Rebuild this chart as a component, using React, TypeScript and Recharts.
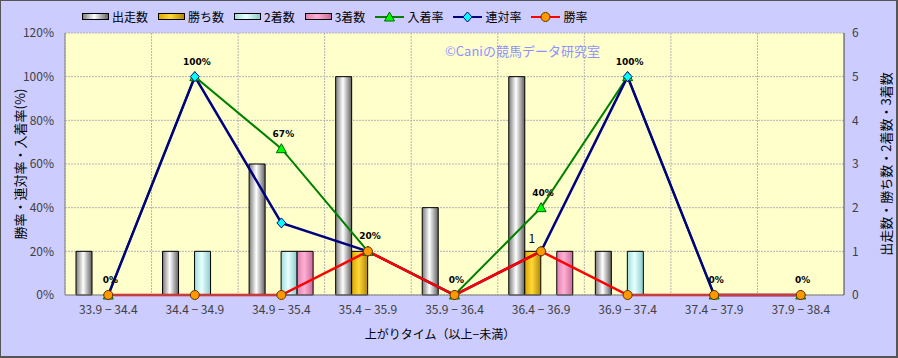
import React from "react";
import {
  ComposedChart,
  Bar,
  Line,
  XAxis,
  YAxis,
  CartesianGrid,
  LabelList,
} from "recharts";

const categories = [
  "33.9 − 34.4",
  "34.4 − 34.9",
  "34.9 − 35.4",
  "35.4 − 35.9",
  "35.9 − 36.4",
  "36.4 − 36.9",
  "36.9 − 37.4",
  "37.4 − 37.9",
  "37.9 − 38.4",
];
const starts = [1, 1, 3, 5, 2, 5, 1, 0, 0];
const wins = [0, 0, 0, 1, 0, 1, 0, 0, 0];
const seconds = [0, 1, 1, 0, 0, 0, 1, 0, 0];
const thirds = [0, 0, 1, 0, 0, 1, 0, 0, 0];
const placeRate = [0, 100, 67, 20, 0, 40, 100, 0, 0];
const quinellaRate = [0, 100, 33, 20, 0, 20, 100, 0, 0];
const winRate = [0, 0, 0, 20, 0, 20, 0, 0, 0];
// only one 勝ち数 bar carries a value label in the original
const winLabels = ["", "", "", "", "", "1", "", "", ""];
const leftTicks = [0, 20, 40, 60, 80, 100, 120];
const rightTicks = [0, 1, 2, 3, 4, 5, 6];

const data = categories.map((c, i) => ({
  name: c,
  starts: starts[i],
  wins: wins[i],
  seconds: seconds[i],
  thirds: thirds[i],
  place: placeRate[i],
  quinella: quinellaRate[i],
  win: winRate[i],
  winLabel: winLabels[i],
}));

const FONT = "'Noto Sans CJK JP', 'Noto Sans', sans-serif";

const bars = [
  { key: "starts", name: "出走数", grad: "gStarts", edge: "#7a7a7a", mid: "#ffffff", dark: "#606060" },
  { key: "wins", name: "勝ち数", grad: "gWins", edge: "#d9a600", mid: "#ffd83a", dark: "#b08600" },
  { key: "seconds", name: "2着数", grad: "gSeconds", edge: "#a0dcdc", mid: "#e8ffff", dark: "#88cccc" },
  { key: "thirds", name: "3着数", grad: "gThirds", edge: "#e080b0", mid: "#ffb0d4", dark: "#c86898" },
];

const Triangle = ({ cx, cy }: any) =>
  cx == null ? null : (
    <path
      d={`M${cx},${cy - 5} L${cx + 5},${cy + 4} L${cx - 5},${cy + 4} Z`}
      fill="#00ff00"
      stroke="#006600"
      strokeWidth={1}
    />
  );

const Diamond = ({ cx, cy }: any) =>
  cx == null ? null : (
    <path
      d={`M${cx},${cy - 5} L${cx + 4.5},${cy} L${cx},${cy + 5} L${cx - 4.5},${cy} Z`}
      fill="#00ffff"
      stroke="#000080"
      strokeWidth={1}
    />
  );

const Circle = ({ cx, cy }: any) =>
  cx == null ? null : (
    <circle cx={cx} cy={cy} r={4.5} fill="#ff9900" stroke="#663300" strokeWidth={1} />
  );

const RateLabel = ({ x, y, value }: any) => (
  <text
    x={x + 2}
    y={y - 12}
    textAnchor="middle"
    fontSize={9}
    fontWeight="bold"
    fontFamily="'DejaVu Sans', sans-serif"
    fill="#000"
  >
    {`${value}%`}
  </text>
);

const WinBarLabel = ({ x, y, width, value }: any) =>
  !value ? null : (
    <text x={x + width / 2 - 1} y={y - 8} textAnchor="middle" fontSize={12} fontFamily={FONT} fill="#000">
      {value}
    </text>
  );

function LegendOverlay() {
  const icon = (b: any) => (
    <svg width={27} height={9} style={{ marginRight: 3 }}>
      <defs>
        <linearGradient id={`lg-${b.key}`} x1="0" y1="0" x2="1" y2="0">
          <stop offset="0" stopColor={b.edge} />
          <stop offset="0.45" stopColor={b.mid} />
          <stop offset="1" stopColor={b.dark} />
        </linearGradient>
      </defs>
      <rect x={0.5} y={1.5} width={26} height={6} fill={`url(#lg-${b.key})`} stroke="#000" />
    </svg>
  );
  const lineIcon = (color: string, Marker: any) => (
    <svg width={29} height={12} style={{ marginRight: 3 }}>
      <line x1={0} y1={6} x2={29} y2={6} stroke={color} strokeWidth={2} />
      <Marker cx={14.5} cy={6} />
    </svg>
  );
  const items = [
    ...bars.map((b) => ({ name: b.name, icon: icon(b) })),
    { name: "入着率", icon: lineIcon("#008000", Triangle) },
    { name: "連対率", icon: lineIcon("#000080", Diamond) },
    { name: "勝率", icon: lineIcon("#ff0000", Circle) },
  ];
  return (
    <div
      style={{
        position: "absolute",
        left: 82,
        top: 8,
        display: "flex",
        alignItems: "center",
        fontFamily: FONT,
        fontSize: 12,
        color: "#000",
        whiteSpace: "nowrap",
      }}
    >
      {items.map((it) => (
        <div key={it.name} style={{ display: "flex", alignItems: "center", marginRight: 10 }}>
          {it.icon}
          <span>{it.name}</span>
        </div>
      ))}
    </div>
  );
}

export default function App() {
  const W = 898;
  const H = 358;
  return (
    <div
      style={{
        position: "absolute",
        left: 0,
        top: 0,
        width: W,
        height: H,
        background: "#ccccff",
        boxShadow: "inset 0 0 0 1px #555, inset -1px -1px 0 1px #555",
        fontFamily: FONT,
      }}
    >
      <ComposedChart
        width={W}
        height={H}
        data={data}
        margin={{ top: 33, right: 14, left: 25, bottom: 33 }}
        barCategoryGap={11}
        barGap={0}
      >
        <defs>
          {bars.map((b) => (
            <linearGradient key={b.grad} id={b.grad} x1="0" y1="0" x2="1" y2="0">
              <stop offset="0" stopColor={b.edge} />
              <stop offset="0.45" stopColor={b.mid} />
              <stop offset="1" stopColor={b.dark} />
            </linearGradient>
          ))}
        </defs>
        <CartesianGrid
          yAxisId="left"
          fill="#ffffcc"
          fillOpacity={1}
          stroke="#b4b4b4"
          strokeDasharray="2 1"
          verticalCoordinatesGenerator={({ offset }: any) =>
            categories.map((_, i) => offset.left + (i * offset.width) / categories.length)
          }
        />
        <XAxis
          dataKey="name"
          axisLine={{ stroke: "#808080" }}
          tickLine={false}
          tickSize={4}
          tickMargin={6}
          height={30}
          interval={0}
          tick={{ fontSize: 12, fill: "#404040", fontFamily: FONT }}
        />
        <YAxis
          yAxisId="left"
          width={40}
          domain={[0, 120]}
          ticks={leftTicks}
          tickFormatter={(v) => `${v}%`}
          axisLine={{ stroke: "#808080" }}
          tickLine={false}
          tickSize={4}
          tickMargin={7}
          tick={{ fontSize: 12, fill: "#404040", fontFamily: FONT }}
        />
        <YAxis
          yAxisId="right"
          orientation="right"
          width={40}
          domain={[0, 6]}
          ticks={rightTicks}
          axisLine={{ stroke: "#404040" }}
          tickLine={false}
          tickSize={4}
          tickMargin={4}
          tick={{ fontSize: 12, fill: "#404040", fontFamily: FONT }}
        />
        {bars.map((b) => (
          <Bar
            key={b.key}
            yAxisId="right"
            dataKey={b.key}
            name={b.name}
            fill={`url(#${b.grad})`}
            stroke="#000"
            strokeWidth={1}
            isAnimationActive={false}
          >
            {b.key === "wins" && <LabelList dataKey="winLabel" content={WinBarLabel} />}
          </Bar>
        ))}
        <Line
          yAxisId="left"
          dataKey="place"
          name="入着率"
          stroke="#008000"
          strokeWidth={2}
          dot={Triangle}
          activeDot={false}
          isAnimationActive={false}
        >
          <LabelList dataKey="place" content={RateLabel} />
        </Line>
        <Line
          yAxisId="left"
          dataKey="quinella"
          name="連対率"
          stroke="#000080"
          strokeWidth={2.5}
          dot={Diamond}
          activeDot={false}
          isAnimationActive={false}
        />
        <Line
          yAxisId="left"
          dataKey="win"
          name="勝率"
          stroke="#ff0000"
          strokeWidth={2.5}
          dot={Circle}
          activeDot={false}
          isAnimationActive={false}
        />
      </ComposedChart>
      <LegendOverlay />
      <div
        style={{
          position: "absolute",
          left: 445,
          top: 41,
          fontSize: 13,
          color: "#9090ff",
          fontFamily: FONT,
        }}
      >
        ©Caniの競馬データ研究室
      </div>
      <div
        style={{
          position: "absolute",
          left: 19,
          top: 164,
          transform: "translate(-50%, -50%) rotate(-90deg)",
          fontSize: 13,
          whiteSpace: "nowrap",
          color: "#000",
        }}
      >
        勝率・連対率・入着率(%)
      </div>
      <div
        style={{
          position: "absolute",
          left: 885,
          top: 164,
          transform: "translate(-50%, -50%) rotate(-90deg)",
          fontSize: 13,
          whiteSpace: "nowrap",
          color: "#000",
        }}
      >
        出走数・勝ち数・2着数・3着数
      </div>
      <div
        style={{
          position: "absolute",
          left: 440,
          top: 333,
          transform: "translate(-50%, -50%)",
          fontSize: 12,
          whiteSpace: "nowrap",
          color: "#000",
        }}
      >
        上がりタイム（以上−未満）
      </div>
    </div>
  );
}
